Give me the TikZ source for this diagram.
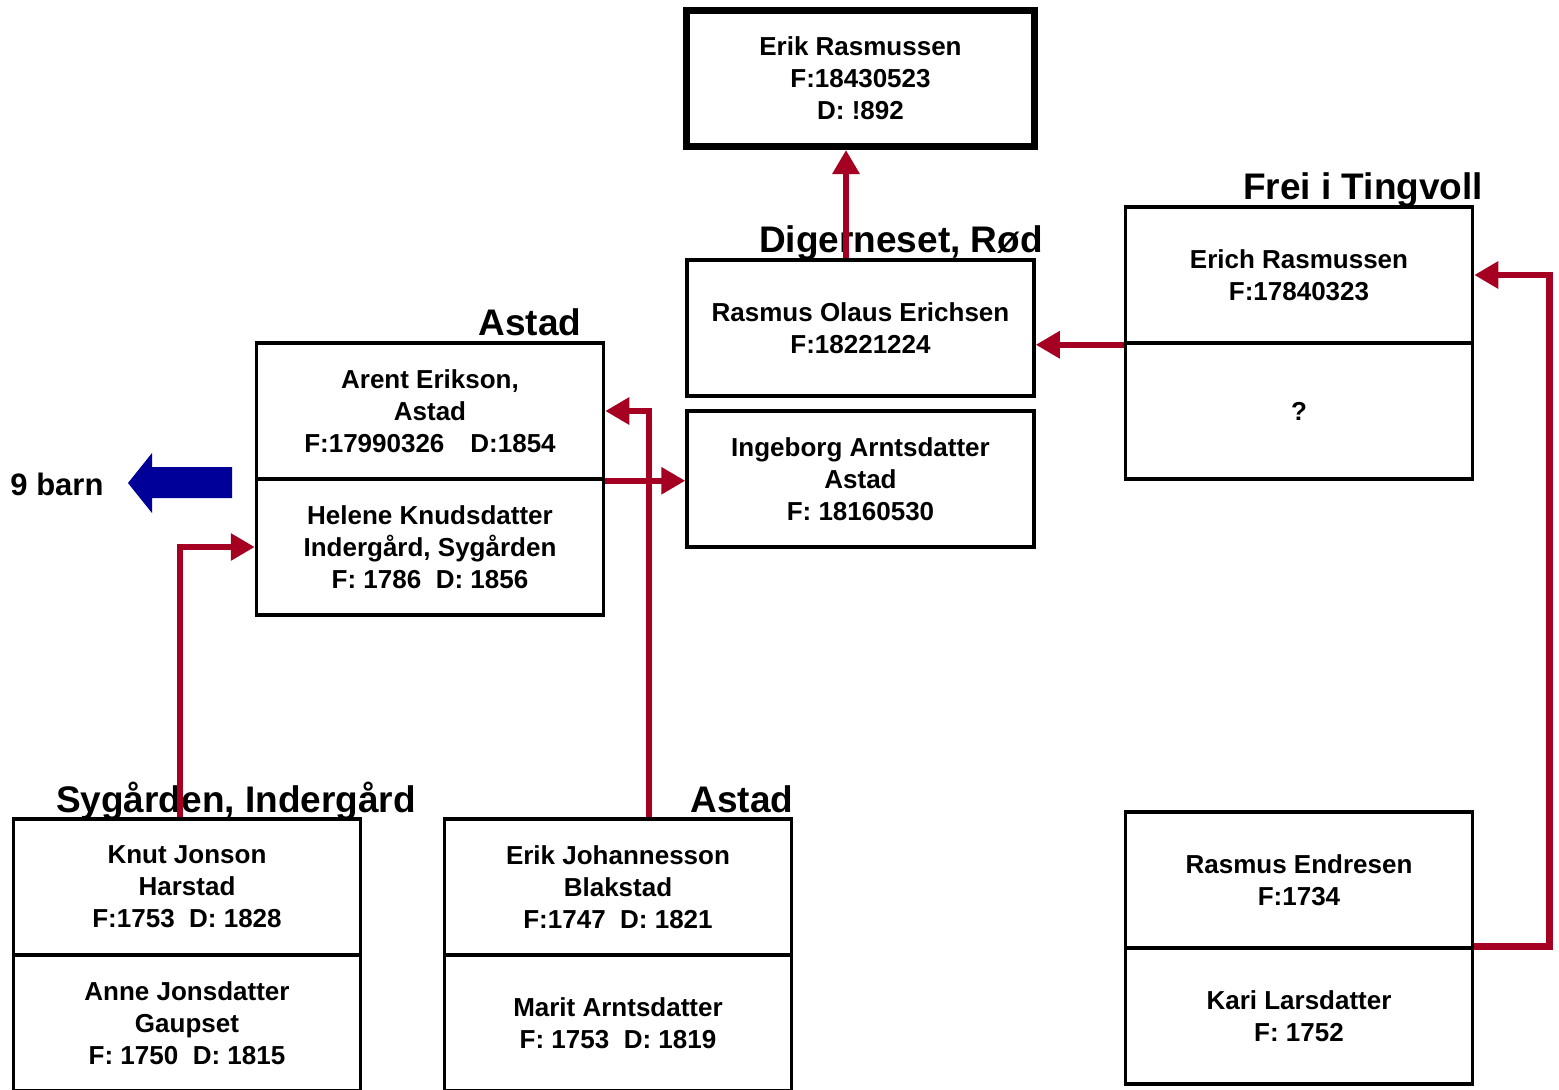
\documentclass[tikz,border=0pt]{standalone}
\usepackage{fontspec}
\setmainfont{Liberation Sans}
\usetikzlibrary{arrows.meta}
\definecolor{conred}{RGB}{165,0,33}
\definecolor{arrblue}{RGB}{0,0,153}
\begin{document}
\begin{tikzpicture}[x=1pt,y=-1pt,
 box/.style={draw, line width=3.5pt, minimum width=347pt, minimum height=136pt, inner sep=0pt, align=center, font=\fontsize{26}{32}\selectfont\bfseries, text depth=0pt},
 title/.style={anchor=base, inner sep=0pt, font=\fontsize{37}{40}\selectfont\bfseries},
 link/.style={draw=conred, line width=6.5pt, -{Triangle[length=24pt,width=26pt]}}
]
\useasboundingbox[fill=white] (0,0) rectangle (1559,1090);

% boxes
\node[box, line width=7pt, minimum width=348pt] (top) at (860.5,78.5) {Erik Rasmussen\\F:18430523\\D: !892};
\node[box] (rasmus) at (860.5,328) {Rasmus Olaus Erichsen\\F:18221224};
\node[box] (ingeborg) at (860.5,479) {Ingeborg Arntsdatter\\Astad\\F: 18160530};
\node[box] (arent) at (430,411) {Arent Erikson,\\Astad\\F:17990326\quad D:1854};
\node[box] (helene) at (430,547) {Helene Knudsdatter\\Indergård, Sygården\\F: 1786\ \ D: 1856};
\node[box] (erich) at (1299,275) {Erich Rasmussen\\F:17840323};
\node[box] (unknown) at (1299,411) {?};
\node[box] (knut) at (187,887) {Knut Jonson\\Harstad\\F:1753\ \ D: 1828};
\node[box] (anne) at (187,1023) {Anne Jonsdatter\\Gaupset\\F: 1750\ \ D: 1815};
\node[box] (erikj) at (618,887) {Erik Johannesson\\Blakstad\\F:1747\ \ D: 1821};
\node[box] (marit) at (618,1023) {Marit Arntsdatter\\F: 1753\ \ D: 1819};
\node[box] (rasmusE) at (1299,880) {Rasmus Endresen\\F:1734};
\node[box] (kari) at (1299,1016) {Kari Larsdatter\\F: 1752};

% titles
\node[title] (t1) at (1363,199) {Frei i Tingvoll};
\node[title] (t2) at (901,252) {Digerneset, Rød};
\node[title] (t3) at (530,335) {Astad};
\node[title] (t4) at (236,812) {Sygården, Indergård};
\node[title] (t5) at (742,812) {Astad};
\node[title, font=\fontsize{31}{34}\selectfont\bfseries] (barn) at (57,495) {9 barn};

% blue arrow
\fill[arrblue] (232,467) -- (152,467) -- (152,453) -- (128,483) -- (152,513) -- (152,498) -- (232,498) -- cycle;

% connectors
\coordinate (c1) at (846,200);
\coordinate (c4) at (649,411);
\coordinate (c5) at (180,547);
\draw[link] (rasmus.north -| c1) -- (top.south -| c1);
\draw[link] (erich.south west) -- (erich.south west -| rasmus.east);
\draw[link] (arent.south east) -- (arent.south east -| ingeborg.west);
\draw[link] (erikj.north -| c4) |- (arent.east);
\draw[link] (knut.north -| c5) |- (helene.west);
\draw[link] (kari.north east) -- ++(75,0) |- (erich.east);
\end{tikzpicture}
\end{document}
